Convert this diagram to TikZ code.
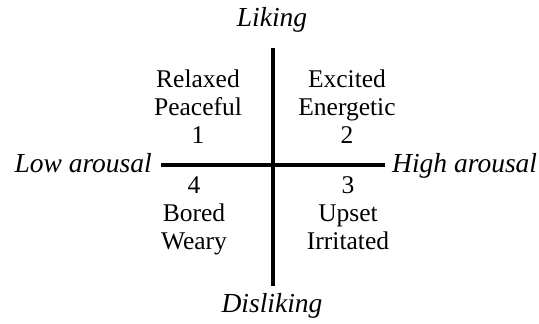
\documentclass[tikz,border=0pt]{standalone}
\usepackage{fontspec}
\setmainfont{Liberation Serif}
\begin{document}
\begin{tikzpicture}[x=1pt,y=-1pt,
  quad/.style={align=center,font=\fontsize{25.5}{28}\selectfont,inner sep=0pt},
  axislabel/.style={font=\fontsize{27.5}{29}\selectfont\itshape,inner sep=0pt},
  axis/.style={line width=3.2pt}]
\useasboundingbox (0,0) rectangle (539,324);
\node[axislabel,anchor=base] (lik) at (272,27) {Liking};
\node[axislabel,anchor=base] (dis) at (272,312) {Disliking};
\node[axislabel,anchor=base east] (low) at (152,172) {Low arousal};
\node[axislabel,anchor=base west] (high) at (392,172) {High arousal};
\coordinate (vt) at (273,48);
\coordinate (vb) at (273,286);
\coordinate (hl) at (161,165);
\coordinate (hr) at (385,165);
\draw[axis] (vt) -- (vb);
\draw[axis] (hl) -- (hr);
\node[quad,anchor=base] (q1) at (198,143) {Relaxed\\Peaceful\\1};
\node[quad,anchor=base] (q2) at (347,143) {Excited\\Energetic\\2};
\node[quad,anchor=base] (q4) at (194,249) {4\\Bored\\Weary};
\node[quad,anchor=base] (q3) at (348,249) {3\\Upset\\Irritated};
\end{tikzpicture}
\end{document}
